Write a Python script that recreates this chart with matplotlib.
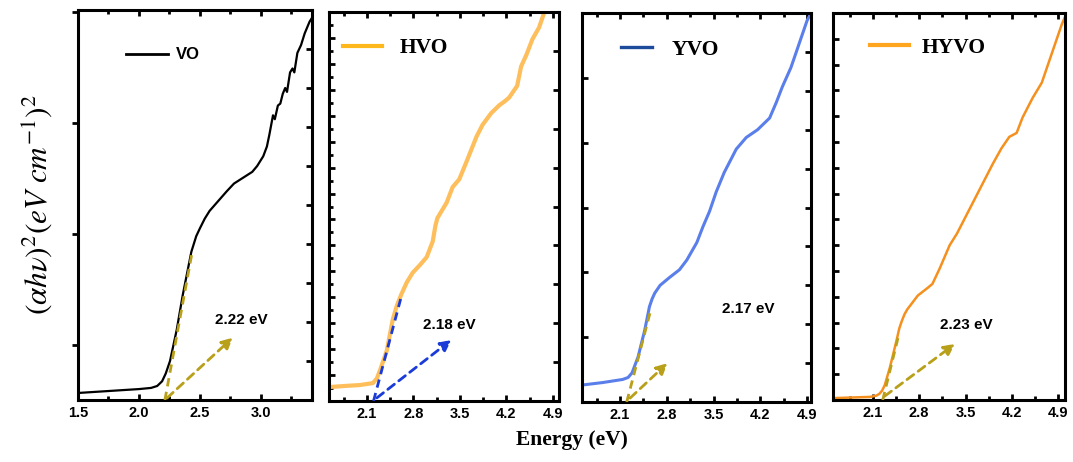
import matplotlib
matplotlib.use("Agg")
import matplotlib.pyplot as plt
from matplotlib.lines import Line2D
from matplotlib.ticker import FixedLocator, MultipleLocator

plt.rcParams["font.family"] = ["Liberation Sans", "DejaVu Sans"]
plt.rcParams["mathtext.fontset"] = "stix"

# ---------------- data (arbitrary units 0..1) ----------------
vo_e = [1.50, 1.70, 2.00, 2.10, 2.15, 2.19, 2.22, 2.255, 2.31, 2.36, 2.43, 2.47,
        2.50, 2.54, 2.58, 2.65, 2.72, 2.78, 2.83, 2.88, 2.93, 2.97, 3.02, 3.05, 3.07,
        3.10, 3.115, 3.14, 3.16, 3.18, 3.20, 3.215, 3.24, 3.26, 3.275, 3.30, 3.33, 3.36,
        3.40, 3.42]
vo_v = [0.018, 0.022, 0.028, 0.031, 0.036, 0.048, 0.068, 0.10, 0.18, 0.27, 0.38, 0.42,
        0.44, 0.465, 0.485, 0.51, 0.535, 0.555, 0.565, 0.575, 0.585, 0.60, 0.625,
        0.65, 0.68, 0.73, 0.72, 0.755, 0.76, 0.785, 0.80, 0.79, 0.84, 0.85, 0.84, 0.89,
        0.91, 0.94, 0.97, 0.98]

hvo_e = [1.545, 1.80, 1.995, 2.19, 2.25, 2.30, 2.40, 2.49, 2.55, 2.62, 2.70, 2.79, 2.90,
         3.00, 3.09, 3.13, 3.16, 3.30, 3.39, 3.49, 3.61, 3.75, 3.84, 3.97, 4.09, 4.17,
         4.24, 4.36, 4.42, 4.50, 4.59, 4.69, 4.77, 4.85]
hvo_v = [0.036, 0.039, 0.041, 0.046, 0.058, 0.080, 0.13, 0.21, 0.245, 0.275, 0.305, 0.33,
         0.35, 0.37, 0.41, 0.45, 0.47, 0.51, 0.55, 0.57, 0.62, 0.68, 0.71, 0.74, 0.76,
         0.77, 0.78, 0.81, 0.86, 0.89, 0.93, 0.96, 1.00, 1.05]

yvo_e = [1.55, 1.84, 2.14, 2.22, 2.28, 2.37, 2.47, 2.54, 2.58, 2.62, 2.70, 2.84, 2.99,
         3.10, 3.25, 3.34, 3.44, 3.54, 3.66, 3.84, 3.99, 4.16, 4.34, 4.44, 4.53, 4.66,
         4.78, 4.90, 4.96]
yvo_v = [0.044, 0.050, 0.058, 0.063, 0.075, 0.116, 0.185, 0.245, 0.265, 0.28, 0.30, 0.32,
         0.34, 0.365, 0.41, 0.45, 0.49, 0.54, 0.59, 0.65, 0.68, 0.70, 0.73, 0.77, 0.81,
         0.86, 0.92, 0.98, 1.00]

hyvo_e = [1.53, 2.06, 2.15, 2.20, 2.24, 2.28, 2.36, 2.46, 2.50, 2.54, 2.58, 2.62, 2.70,
          2.78, 2.93, 3.00, 3.11, 3.26, 3.37, 3.52, 3.64, 3.76, 3.91, 4.04, 4.16, 4.27,
          4.36, 4.51, 4.65, 4.77, 4.87, 4.95, 5.00]
hyvo_v = [0.005, 0.008, 0.011, 0.016, 0.024, 0.038, 0.085, 0.155, 0.185, 0.205, 0.222,
          0.234, 0.252, 0.27, 0.29, 0.30, 0.34, 0.40, 0.43, 0.48, 0.52, 0.56, 0.61, 0.65,
          0.68, 0.69, 0.73, 0.78, 0.82, 0.88, 0.93, 0.97, 0.99]

samples = ["VO", "HVO", "YVO", "HYVO"]
band_gaps = ["2.22 eV", "2.18 eV", "2.17 eV", "2.23 eV"]

# tangent (Tauc fit) segments and arrows: [x0, x1], [y0, y1]
tangent_x = [[2.213, 2.44], [2.20, 2.62], [2.20, 2.55], [2.25, 2.48]]
tangent_y = [[0.0, 0.385], [0.0, 0.27], [0.0, 0.23], [0.0, 0.16]]
arrow_start = [(2.23, 0.005), (2.25, 0.008), (2.25, 0.01), (2.28, 0.01)]
arrow_end = [(2.77, 0.16), (3.37, 0.157), (2.81, 0.10), (3.34, 0.145)]
label_pos = [(2.62, 0.205), (2.94, 0.195), (3.63, 0.24), (3.11, 0.194)]

# ---------------- style ----------------
curve_colors = ["black", "#FDBE5B", "#5A7FEA", "#F5901E"]
curve_lw = [1.6, 3.0, 2.2, 1.8]
legend_colors = ["black", "#FFB81C", "#1C4B9C", "#FFA51F"]
legend_lw = [2.0, 3.0, 2.4, 3.0]
fit_colors = ["#B8A01A", "#1A3BD8", "#B8A01A", "#B8A01A"]

W, H = 1073, 462
boxes = [(78, 312, 10, 400), (329, 559, 12, 401), (582, 811, 13, 402), (833, 1065, 13, 400)]
xlims = [(1.5, 3.42), (1.53, 4.99), (1.53, 4.96), (1.5, 5.0)]
legend_anchor = [(0.205, 0.885), (0.061, 0.907), (0.17, 0.905), (0.16, 0.91)]
legend_hl = [2.5, 1.8, 1.45, 1.8]
legend_pad = [0.5, 0.85, 0.9, 0.6]

left_ticks = [[0.141, 0.426, 0.711, 0.996],
              [k / 15 for k in range(1, 15)],
              [k / 6 for k in range(1, 6)],
              [k / 15 for k in range(1, 15)]]
left_minor = [[], [k / 30 for k in range(1, 30, 2)], [], []]
right_ticks = [[k / 10 for k in range(1, 10)],
               [k / 10 for k in range(1, 10)],
               [k / 10 for k in range(1, 10)],
               []]

series_e = [vo_e, hvo_e, yvo_e, hyvo_e]
series_v = [vo_v, hvo_v, yvo_v, hyvo_v]

fig = plt.figure(figsize=(W / 100, H / 100), dpi=100)

for i in range(4):
    l, r, t, b = boxes[i]
    ax = fig.add_axes([l / W, (H - b) / H, (r - l) / W, (b - t) / H])
    ax.plot(series_e[i], series_v[i], color=curve_colors[i], lw=curve_lw[i],
            solid_capstyle="round", solid_joinstyle="round", zorder=2)
    ax.set_xlim(*xlims[i])
    ax.set_ylim(0, 1)

    # Tauc tangent + arrow
    ax.plot(tangent_x[i], tangent_y[i], ls=(0, (3, 2)), color=fit_colors[i], lw=2.0, zorder=3)
    ax.annotate("", xy=arrow_end[i], xytext=arrow_start[i],
                arrowprops=dict(arrowstyle="-|>", color=fit_colors[i], lw=2.0,
                                linestyle=(0, (3, 2)), mutation_scale=16,
                                shrinkA=0, shrinkB=0), zorder=3)
    ax.text(*label_pos[i], band_gaps[i], fontsize=11, fontweight="bold",
            ha="left", va="center")

    # legend
    if i == 0:
        prop = dict(family="Liberation Sans", weight="bold", size=12)
    else:
        prop = dict(family="Liberation Serif", weight="bold", size=15.5)
    handle = Line2D([], [], color=legend_colors[i], lw=legend_lw[i])
    ax.legend([handle], [samples[i]], loc="center left", bbox_to_anchor=legend_anchor[i],
              frameon=False, prop=prop, handlelength=legend_hl[i],
              handletextpad=legend_pad[i], borderpad=0, borderaxespad=0)

    # spines & ticks
    for sp in ax.spines.values():
        sp.set_linewidth(2.2)
    if i == 0:
        ax.xaxis.set_major_locator(MultipleLocator(0.5))
        ax.xaxis.set_minor_locator(MultipleLocator(0.25))
    else:
        ax.xaxis.set_major_locator(FixedLocator([2.1, 2.8, 3.5, 4.2, 4.9]))
        ax.xaxis.set_minor_locator(FixedLocator([1.75, 2.45, 3.15, 3.85, 4.55]))
    ax.xaxis.set_major_formatter(plt.FuncFormatter(lambda v, p: f"{v:.1f}"))
    ax.tick_params(axis="x", which="both", direction="in", top=True, length=4, width=2,
                   labelsize=10.5, pad=4)
    ax.tick_params(axis="x", which="minor", length=3)
    for lab in ax.get_xticklabels():
        lab.set_fontweight("bold")

    ax.yaxis.set_major_locator(FixedLocator(left_ticks[i]))
    ax.yaxis.set_minor_locator(FixedLocator(left_minor[i]))
    ax.tick_params(axis="y", which="both", direction="out" if i == 0 else "in",
                   length=4, width=2, labelleft=False)
    ax.tick_params(axis="y", which="minor", length=3)

    # right-hand ticks drawn on a twin axis
    if right_ticks[i]:
        axr = ax.twinx()
        axr.set_ylim(0, 1)
        axr.yaxis.set_major_locator(FixedLocator(right_ticks[i]))
        axr.tick_params(axis="y", direction="in", length=4, width=2, labelright=False)
        for sp in axr.spines.values():
            sp.set_visible(False)

fig.text(38 / W, (H - 204) / H, r"$(\alpha h\nu)^2(eV\ cm^{-1})^2$", rotation=90,
         fontsize=22.5, ha="center", va="center")
fig.text(572 / W, (H - 440) / H, "Energy (eV)", fontsize=15.5, fontweight="bold",
         family="Liberation Serif", ha="center", va="center")

fig.savefig("out.png", dpi=100)
